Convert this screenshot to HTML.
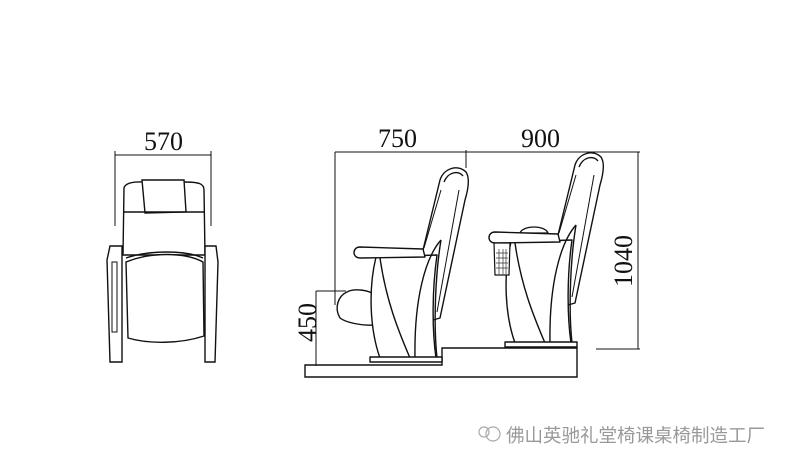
<!DOCTYPE html>
<html><head><meta charset="utf-8"><style>
html,body{margin:0;padding:0;background:#fff;width:797px;height:468px;overflow:hidden}
svg{display:block}
text{font-family:"Liberation Serif",serif;fill:#111}
</style></head><body>
<svg width="797" height="468" viewBox="0 0 797 468" xmlns="http://www.w3.org/2000/svg">
<defs>
<g id="chair" fill="#fff" stroke="#111" stroke-width="1.4" stroke-linejoin="round">
  <path d="M440,180 C444,168 458,164 466,172 C470,178 468,190 465,200 L440,318 L433,320 L432,300 L423,250 Z"/>
  <path d="M444,182 C448,172 458,170 463,176" fill="none"/>
  <path d="M441,190 L424,248" fill="none" stroke-width="1"/>
  <path d="M459,190 L437,312" fill="none" stroke-width="1"/>
  <path d="M376,257 C368,290 370,330 380,358 L436,358 C432,330 432,290 437,255 Z"/>
  <path d="M380,258 C386,300 398,330 410,358" fill="none"/>
  <path d="M441,240 C425,258 414,300 415,358" fill="none"/>
  <path d="M441,240 C436,270 433,320 437,358" fill="none"/>
  <path d="M360,247 L423,249 L425,257 L360,258 C352,258 352,247 360,247 Z"/>
  <rect x="370" y="357" width="72" height="5"/>
</g>
</defs>

<g fill="#fff" stroke="#111" stroke-width="1.4">
  <path d="M115,155 L211,155 M115,151 L115,226 M211,151 L211,226" fill="none" stroke-width="1"/>
  <path d="M124,188 C126,181 140,182 142,182 L184,182 C200,182 204,184 204,190 L205,255 L123,255 Z"/>
  <path d="M142,180 L184,180 L186,212 L145,213 Z"/>
  <path d="M124,212 L205,212" fill="none"/>
  <path d="M110,246 L122,246 L122,362 L110,362 L107,260 Z"/>
  <path d="M205,246 L216,246 L218,262 L215,362 L205,362 Z"/>
  <path d="M126,262 C150,252 185,252 203,262 L204,336 C180,344 148,344 128,338 Z"/>
  <path d="M126,258 C150,250 185,250 203,258" fill="none"/>
  <rect x="112" y="262" width="5" height="70" stroke-width="1"/>
</g>
<text x="144" y="150" font-size="26">570</text>

<g stroke="#111" stroke-width="1" fill="none">
  <path d="M335,152 L638,152 M335,152 L335,305 M466,150 L466,168"/>
  <path d="M638,152 L638,349 M596,349 L640,349 M603,152 L640,152"/>
  <path d="M316,291 L316,366 M316,291 L346,291"/>
</g>
<text x="378" y="147" font-size="26">750</text>
<text x="521" y="147" font-size="26">900</text>
<text font-size="26" transform="translate(632,287) rotate(-90)">1040</text>
<text font-size="26" transform="translate(316,342) rotate(-90)">450</text>

<path d="M305,365 L442,365 L442,348 L577,348 L577,377 L305,377 Z" fill="none" stroke="#111" stroke-width="1.4"/>

<path d="M347,292 C354,288 370,290 374,295 L376,325 C360,326 345,322 340,318 C334,308 338,296 347,292 Z" fill="#fff" stroke="#111" stroke-width="1.4"/>
<use href="#chair"/>

<g transform="translate(135,-15)">
  <path d="M385,248 C388,240 410,240 413,248 Z" fill="#fff" stroke="#111" stroke-width="1.3"/>
  <use href="#chair"/>
  <path d="M359,258 L375,258 L374,290 L360,290 Z" fill="#fff" stroke="#111" stroke-width="1.2"/>
  <path d="M361,268 L373,268 M361,273 L373,273 M361,278 L373,278 M361,283 L373,283 M364,264 L364,289 M368,264 L368,289 M371,264 L371,289" stroke="#333" stroke-width="0.7"/>
</g>

<g stroke="#aaa" fill="none" stroke-width="1.2">
  <circle cx="493" cy="434" r="7"/>
  <circle cx="484" cy="432" r="5"/>
</g>
<text x="506" y="442" font-size="18.5" style="font-family:'Liberation Sans','Noto Sans CJK SC',sans-serif;fill:#999">佛山英驰礼堂椅课桌椅制造工厂</text>
</svg>
</body></html>
